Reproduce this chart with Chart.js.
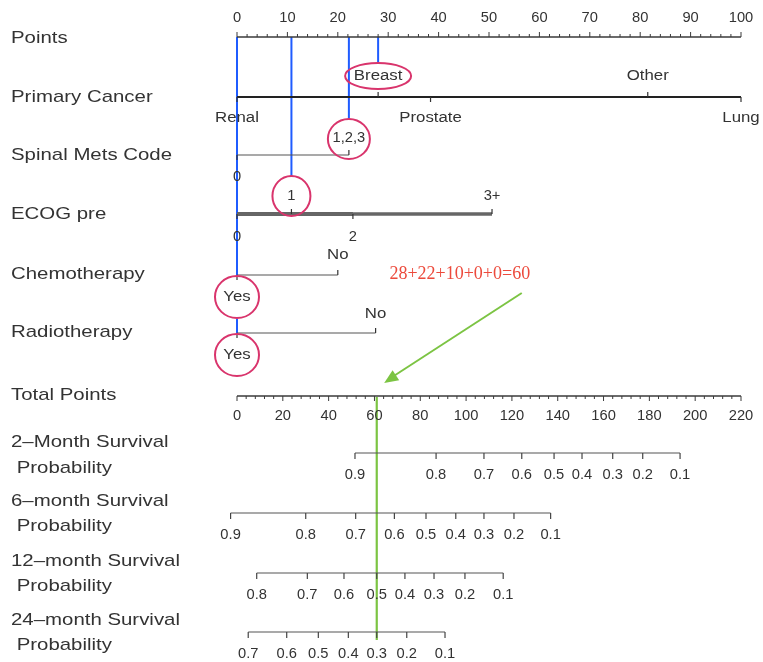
<!DOCTYPE html>
<html><head><meta charset="utf-8">
<script src="https://cdn.jsdelivr.net/npm/chart.js@4"></script>
<style>html,body{margin:0;padding:0;background:#fff}#wrap{width:763px;height:662px;position:relative}</style>
</head><body><div id="wrap"><canvas id="c"></canvas></div>
<script>
// ---------------- DATA ----------------
const pointsTicks = [0,10,20,30,40,50,60,70,80,90,100];
const cancerLevels = ['Renal','Breast','Prostate','Other','Lung'];
const cancerPoints = [0,28,38.4,81.5,100];
const cancerSides  = ['below','above','below','above','below'];
const spinalLevels = ['0','1,2,3'];
const spinalPoints = [0,22.2];
const spinalSides  = ['below','above'];
const ecogLevels = ['0','1','2','3+'];
const ecogPoints = [0,10.8,23.0,50.6];
const ecogSides  = ['below','above','below','above'];
const chemoLevels = ['Yes','No'];
const chemoPoints = [0,20.0];
const chemoSides  = ['below','above'];
const radioLevels = ['Yes','No'];
const radioPoints = [0,27.5];
const radioSides  = ['below','above'];
const totalTicks = [0,20,40,60,80,100,120,140,160,180,200,220];
const totalMax = 220;
const surv2Labels  = ['0.9','0.8','0.7','0.6','0.5','0.4','0.3','0.2','0.1'];
const surv2Total   = [51.5,86.9,107.8,124.3,138.4,150.6,164.0,177.1,193.4];
const surv6Labels  = ['0.9','0.8','0.7','0.6','0.5','0.4','0.3','0.2','0.1'];
const surv6Total   = [-2.8,30.0,51.8,68.7,82.5,95.5,107.8,120.9,136.9];
const surv12Labels = ['0.8','0.7','0.6','0.5','0.4','0.3','0.2','0.1'];
const surv12Total  = [8.6,30.7,46.7,61.0,73.3,86.0,99.5,116.2];
const surv24Labels = ['0.7','0.6','0.5','0.4','0.3','0.2','0.1'];
const surv24Total  = [4.9,21.7,35.5,48.6,61.0,74.1,90.8];
const selectedLevel = {cancer:1, spinal:1, ecog:1, chemo:0, radio:0};
const selectedTotal = 61;
const sumText = '28+22+10+0+0=60';

// ---------------- LAYOUT / STYLE ----------------
const W = 763, H = 662;
const AXIS_LEFT = 237, PX_PER_POINT = 5.04;
const XMIN = -AXIS_LEFT / PX_PER_POINT, XMAX = (W - AXIS_LEFT) / PX_PER_POINT;
const Y = {points:37, cancer:97, spinal:155, ecog:214, chemo:275, radio:333, total:396,
           s2:453, s6:513, s12:573, s24:632};
const TITLES = [
  ['Points',38],['Primary Cancer',97],['Spinal Mets Code',155],['ECOG pre',214],
  ['Chemotherapy',274],['Radiotherapy',332],['Total Points',395],
  ['2\u2013Month Survival',442],[' Probability',468],
  ['6\u2013month Survival',501],[' Probability',526],
  ['12\u2013month Survival',561],[' Probability',586],
  ['24\u2013month Survival',620],[' Probability',645]
];
const TXT = '#333', AX = '#3a3a3a', BLUE = '#1f5cff', GREEN = '#7cc443', PINK = '#d9346c', RED = '#ec4a3c';
const FONT = '"Liberation Sans", Arial, Helvetica, sans-serif';
const ARROW = {x0:56.5, y0:293, x1:29.2, y1:383};
const SUMPOS = {x:44.2, y:274};
const ELL = [ // ellipse round the chosen label: [variable, rx, ry, dy]
  ['cancer',33,13,-21],['spinal',21,20,-16],['ecog',19,20,-18],['chemo',22,21,22],['radio',22,21,22]
];

const tp = t => t * 100 / totalMax;   // total points -> points scale
const VARS = {
  cancer:{levels:cancerLevels, pts:cancerPoints, sides:cancerSides, w:2.2, col:'#222', up:21, down:21},
  spinal:{levels:spinalLevels, pts:spinalPoints, sides:spinalSides, w:1.2, col:'#555', up:17, down:22},
  ecog:{levels:ecogLevels, pts:ecogPoints, sides:ecogSides, w:3.5, col:'#666', up:18, down:23},
  chemo:{levels:chemoLevels, pts:chemoPoints, sides:chemoSides, w:1.2, col:'#555', up:20, down:22},
  radio:{levels:radioLevels, pts:radioPoints, sides:radioSides, w:1.2, col:'#555', up:19, down:22}
};
const SURV = [
  {labels:surv2Labels, tot:surv2Total, y:Y.s2},
  {labels:surv6Labels, tot:surv6Total, y:Y.s6},
  {labels:surv12Labels, tot:surv12Total, y:Y.s12},
  {labels:surv24Labels, tot:surv24Total, y:Y.s24}
];

function seg(x0,y0,x1,y1,color,w){
  return {data:[{x:x0,y:y0},{x:x1,y:y1}], showLine:true, borderColor:color, borderWidth:w,
          pointRadius:0, fill:false, spanGaps:false};
}
const datasets = [];
datasets.push(seg(pointsTicks[0],Y.points,pointsTicks[pointsTicks.length-1],Y.points,AX,1.3));
for (const k in VARS){
  const v = VARS[k];
  datasets.push(seg(Math.min(...v.pts),Y[k],Math.max(...v.pts),Y[k],v.col,v.w));
}
// darker overlapping part of the ECOG scale (levels 0..2)
datasets.push(seg(ecogPoints[0],Y.ecog,ecogPoints[2],Y.ecog,'#333',3.5));
datasets.push(seg(tp(totalTicks[0]),Y.total,tp(totalTicks[totalTicks.length-1]),Y.total,AX,1.3));
for (const s of SURV){
  datasets.push(seg(tp(Math.min(...s.tot)),s.y,tp(Math.max(...s.tot)),s.y,'#555',1.2));
}
// blue selection lines
const selX = k => VARS[k].pts[selectedLevel[k]];
datasets.push(seg(selX('cancer'),Y.points,selX('cancer'),Y.cancer-34,BLUE,2));
datasets.push(seg(selX('spinal'),Y.points,selX('spinal'),Y.spinal-36,BLUE,2));
datasets.push(seg(selX('ecog'),Y.points,selX('ecog'),Y.ecog-38,BLUE,2));
datasets.push({data:[{x:selX('chemo'),y:Y.points},{x:selX('chemo'),y:Y.chemo},{x:selX('chemo'),y:null},
   {x:selX('radio'),y:Y.chemo+44},{x:selX('radio'),y:Y.radio}],
   showLine:true,borderColor:BLUE,borderWidth:2,pointRadius:0,spanGaps:false});
// green total line and arrow shaft
datasets.push(seg(tp(selectedTotal),Y.total+1,tp(selectedTotal),640,GREEN,2.2));
datasets.push(seg(ARROW.x0,ARROW.y0,ARROW.x1+1.6,ARROW.y1-6,GREEN,2));

const decor = {
  id:'decor',
  afterDatasetsDraw(chart){
    const ctx = chart.ctx, xs = chart.scales.x, ys = chart.scales.y;
    const X = v => xs.getPixelForValue(v), Yp = v => ys.getPixelForValue(v);
    function text(s,x,y,size,stretch,align,color,font){
      ctx.save(); ctx.translate(x,y); ctx.scale(stretch,1);
      ctx.font = size+'px '+(font||FONT); ctx.fillStyle = color||TXT;
      ctx.textAlign = align||'center'; ctx.textBaseline = 'middle';
      ctx.fillText(s,0,0); ctx.restore();
    }
    function line(x0,y0,x1,y1,c,w){ctx.beginPath();ctx.moveTo(x0,y0);ctx.lineTo(x1,y1);ctx.strokeStyle=c;ctx.lineWidth=w;ctx.stroke();}
    // titles
    for (const [s,y] of TITLES) text(s,11,Yp(y),17,1.2,'left');
    // points axis
    const py = Yp(Y.points);
    for (let v=0; v<=100; v+=2){ const major = v%10===0; line(X(v),py,X(v),py-(major?5:3),AX,1); }
    for (const v of pointsTicks) text(String(v),X(v),Yp(Y.points-19),14,1.05);
    // variable axes
    for (const k in VARS){
      const v = VARS[k], y = Yp(Y[k]);
      v.pts.forEach((p,i)=>{
        const up = v.sides[i]==='above';
        line(X(p),y,X(p),y+(up?-5:5),'#333',1.2);
        const isNum = /^[0-9,+]+$/.test(v.levels[i]);
        text(v.levels[i],X(p),Yp(Y[k]+(up?-v.up:v.down)),14,isNum?1.05:1.2);
      });
    }
    // total points axis
    const ty = Yp(Y.total);
    for (let t=0; t<=totalMax; t+=4){ const major = t%20===0; line(X(tp(t)),ty,X(tp(t)),ty+(major?5:3),AX,1); }
    for (const t of totalTicks) text(String(t),X(tp(t)),Yp(Y.total+20),14,1.05);
    // survival axes
    for (const s of SURV){
      const y = Yp(s.y);
      s.tot.forEach((t,i)=>{ line(X(tp(t)),y,X(tp(t)),y+6,'#444',1.2);
        text(s.labels[i],X(tp(t)),Yp(s.y+22),14,1.05); });
    }
    // ellipses
    ctx.save(); ctx.strokeStyle = PINK; ctx.lineWidth = 2;
    for (const [k,rx,ry,dy] of ELL){
      const cx = X(selX(k)), cy = Yp(Y[k]+dy);
      ctx.beginPath(); ctx.ellipse(cx,cy,rx,ry,0,0,Math.PI*2); ctx.stroke();
    }
    ctx.restore();
    // arrow head
    const ax0=X(ARROW.x0), ay0=Yp(ARROW.y0), ax1=X(ARROW.x1), ay1=Yp(ARROW.y1);
    const ang = Math.atan2(ay1-ay0, ax1-ax0), L=14, Wd=6;
    ctx.beginPath(); ctx.moveTo(ax1,ay1);
    ctx.lineTo(ax1-L*Math.cos(ang)+Wd*Math.sin(ang), ay1-L*Math.sin(ang)-Wd*Math.cos(ang));
    ctx.lineTo(ax1-L*Math.cos(ang)-Wd*Math.sin(ang), ay1-L*Math.sin(ang)+Wd*Math.cos(ang));
    ctx.closePath(); ctx.fillStyle = GREEN; ctx.fill();
    // sum text
    text(sumText,X(SUMPOS.x),Yp(SUMPOS.y),18,1.0,'center',RED,'"Liberation Serif","Times New Roman",serif');
  }
};

new Chart(document.getElementById('c'),{
  type:'scatter',
  data:{datasets},
  options:{
    responsive:true, maintainAspectRatio:false, animation:false, events:[],
    layout:{padding:0},
    plugins:{legend:{display:false},tooltip:{enabled:false}},
    scales:{
      x:{type:'linear',min:XMIN,max:XMAX,display:false},
      y:{type:'linear',min:0,max:H,reverse:true,display:false}
    }
  },
  plugins:[decor]
});
</script></body></html>
